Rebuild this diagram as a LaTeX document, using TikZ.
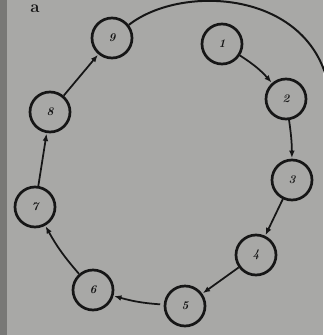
\documentclass[tikz,border=0pt]{standalone}
\usetikzlibrary{arrows.meta}

\definecolor{pagegray}{RGB}{168,168,166}
\definecolor{edgegray}{RGB}{120,120,118}
\definecolor{ink}{RGB}{22,22,22}

\begin{document}
\begin{tikzpicture}[
  x=0.3mm, y=-0.3mm,
  state/.style={draw=ink, circle, line width=2.3pt, minimum size=40*0.3mm, inner sep=0pt,
                font=\normalsize\bfseries\itshape, text=ink},
  arrow/.style={-{Latex[length=2.2mm,width=1.7mm]}, line width=1.5pt, draw=ink, shorten >=0.5pt},
  rim/.style={line width=1.7pt, draw=ink}
]
% page and photo edge
\fill[pagegray] (0,0) rectangle (323,335);
\fill[edgegray] (0,0) rectangle (7,335);
\useasboundingbox (0,0) rectangle (323,335);

\node[anchor=base, inner sep=0pt, font=\Large\bfseries, text=ink] (tag) at (35,12) {a};

\node[state] (s1) at (222,44)  {1};
\node[state] (s2) at (286,99)  {2};
\node[state] (s3) at (292,180) {3};
\node[state] (s4) at (256,255) {4};
\node[state] (s5) at (185,306) {5};
\node[state] (s6) at (93,290)  {6};
\node[state] (s7) at (35,207)  {7};
\node[state] (s8) at (50,112)  {8};
\node[state] (s9) at (112,38)  {9};

\draw[arrow] (s1) to[bend left=8] (s2);
\draw[arrow] (s2) to[bend left=4] (s3);
\draw[arrow] (s3) -- (s4);
\draw[arrow] (s4) -- (s5);
\draw[arrow, shorten <=3pt] (s5) to[bend left=6] (s6);
\draw[arrow] (s6) to[bend left=6] (s7);
\draw[arrow] (s7) -- (s8);
\draw[arrow] (s8) -- (s9);

% big outer arc leaving the picture
\coordinate (arcend) at (326,76);
\draw[rim] (s9) .. controls (180,-15) and (300,-10) .. (arcend);

\end{tikzpicture}
\end{document}
